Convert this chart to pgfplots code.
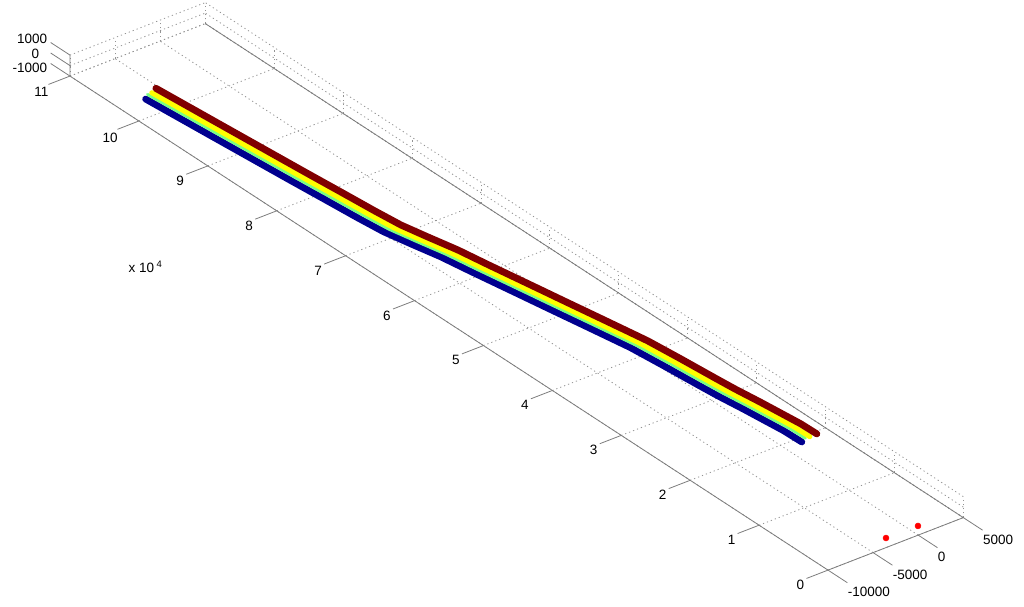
\documentclass[border=0pt]{standalone}
\usepackage{pgfplots}
\usepackage{pgfplotstable}
\usepackage{fontspec}
\setmainfont{Liberation Sans}
\pgfplotsset{compat=1.18}
\definecolor{trackred}{RGB}{128,0,0}
\definecolor{trackyel}{RGB}{255,255,0}
\definecolor{trackgrn}{RGB}{120,255,130}
\definecolor{trackblu}{RGB}{0,0,143}
\definecolor{axisgray}{RGB}{125,125,125}

% lon in units of 10^4, lateral position of the four tracks
\pgfplotstableread{
lonr lonb lon red yel grn blu z
10.364 10.270 10.324 -5334 -6086 -6570 -7189 -1000
9.343 9.343 9.343 -4598 -5378 -5862 -6521 -1000
8.350 8.350 8.350 -3874 -4654 -5138 -5797 -1000
7.915 7.915 7.915 -3532 -4312 -4796 -5455 -1000
7.466 7.466 7.466 -3195 -3975 -4459 -5118 -1000
7.130 7.130 7.130 -2881 -3661 -4145 -4804 -1000
6.816 6.816 6.816 -2284 -3064 -3548 -4207 -1000
6.472 6.472 6.472 -1584 -2364 -2848 -3507 -1000
6.106 6.106 6.106 -1056 -1836 -2320 -2979 -1000
5.539 5.539 5.539 -177 -957 -1441 -2100 -1000
5.140 5.140 5.140 433 -347 -831 -1490 -1000
4.743 4.743 4.743 1052 272 -212 -871 -1000
4.417 4.417 4.417 1553 773 289 -370 -1000
4.175 4.175 4.175 1920 1140 656 -3 -1000
3.744 3.744 3.744 2294 1514 1030 371 -1000
3.295 3.295 3.295 2632 1852 1368 709 -1000
3.034 3.034 3.034 2848 2068 1584 925 -1000
2.704 2.704 2.704 3217 2437 1953 1294 -1000
2.355 2.355 2.355 3547 2767 2283 1624 -1000
2.188 2.188 2.188 3704 2924 2440 1781 -1000
1.962 1.930 1.962 3749 2969 2485 1840 -1000
}\tracks

\begin{document}
\begin{tikzpicture}[x=1pt,y=1pt]
\useasboundingbox (0,0) rectangle (1024,606);
\begin{axis}[
    at={(918.2pt,81.4pt)},
    anchor=origin,
    x={(0.00902pt,0.003487pt)},
    y={(-68.91pt,44.91pt)},
    z={(0pt,0.0105pt)},
    xmin=-10000, xmax=5000,
    ymin=0, ymax=11,
    zmin=-1000, zmax=1000,
    scaled x ticks=false, scaled y ticks=false, scaled z ticks=false,
    xtick={-10000,-5000,0,5000},
    xticklabels={-10000,-5000,0,5000},
    ytick={0,1,2,3,4,5,6,7,8,9,10,11},
    yticklabels={0,1,2,3,4,5,6,7,8,9,10,11},
    ztick={-1000,0,1000},
    zticklabels={\raisebox{-7pt}[9pt][0pt]{-1000},\raisebox{-2pt}[9pt][0pt]{0\hspace*{8pt}},\raisebox{2pt}[9pt][0pt]{1000}},
    grid=major,
    grid style={dash pattern=on 1.2pt off 3pt,gray!85,line width=0.8pt},
    axis line style={draw=none},
    major tick length=23pt,
    tick align=outside,
    major tick style={draw=none},
    tick label style={font=\fontsize{13.5}{13.5}\selectfont,black},
    x tick label style={anchor=north west,xshift=-3pt,yshift=-1pt},
    y tick label style={yshift=2.5pt},
    clip=false,
    unbounded coords=jump,
]
% box edges and tick marks
\addplot3[axisgray,line width=0.8pt] coordinates {
    (5000,11,-1000) (5000,0,-1000) (-10000,0,-1000) (-10000,11,-1000) (-10000,11,1000)};
\addplot3[axisgray,line width=0.8pt] coordinates {
    (-10000,0,-1000) (-10000,-0.28,-1000) (nan,nan,nan)
    (-5000,0,-1000) (-5000,-0.28,-1000) (nan,nan,nan)
    (0,0,-1000) (0,-0.28,-1000) (nan,nan,nan)
    (5000,0,-1000) (5000,-0.28,-1000)};
\addplot3[axisgray,line width=0.8pt] coordinates {
    (-10000,0,-1000) (-12380,0,-1000) (nan,nan,nan)
    (-10000,1,-1000) (-12380,1,-1000) (nan,nan,nan)
    (-10000,2,-1000) (-12380,2,-1000) (nan,nan,nan)
    (-10000,3,-1000) (-12380,3,-1000) (nan,nan,nan)
    (-10000,4,-1000) (-12380,4,-1000) (nan,nan,nan)
    (-10000,5,-1000) (-12380,5,-1000) (nan,nan,nan)
    (-10000,6,-1000) (-12380,6,-1000) (nan,nan,nan)
    (-10000,7,-1000) (-12380,7,-1000) (nan,nan,nan)
    (-10000,8,-1000) (-12380,8,-1000) (nan,nan,nan)
    (-10000,9,-1000) (-12380,9,-1000) (nan,nan,nan)
    (-10000,10,-1000) (-12380,10,-1000) (nan,nan,nan)
    (-10000,11,-1000) (-12380,11,-1000)};
\addplot3[axisgray,line width=0.8pt] coordinates {
    (-10000,11,-1000) (-10000,11.28,-1000) (nan,nan,nan)
    (-10000,11,0) (-10000,11.28,0) (nan,nan,nan)
    (-10000,11,1000) (-10000,11.28,1000)};
% tracks
\addplot3[trackblu,line width=6.8pt,line cap=round,line join=round] table[x=blu,y=lonb,z=z] {\tracks};
\addplot3[trackgrn,line width=3pt,line cap=round,line join=round] table[x=grn,y=lon,z=z] {\tracks};
\addplot3[trackyel,line width=5.2pt,line cap=round,line join=round] table[x=yel,y=lon,z=z] {\tracks};
\addplot3[trackred,line width=6.9pt,line cap=round,line join=round] table[x=red,y=lonr,z=z] {\tracks};
\addplot3[only marks,mark=*,mark size=3pt,red,mark options={draw=none}] coordinates {(-2547,0.134,-1000) (960,0.129,-1000)};
\end{axis}
\node[font=\fontsize{13.5}{13.5}\selectfont] at (145.5,339) {x 10\,\textsuperscript{4}};
\end{tikzpicture}
\end{document}
